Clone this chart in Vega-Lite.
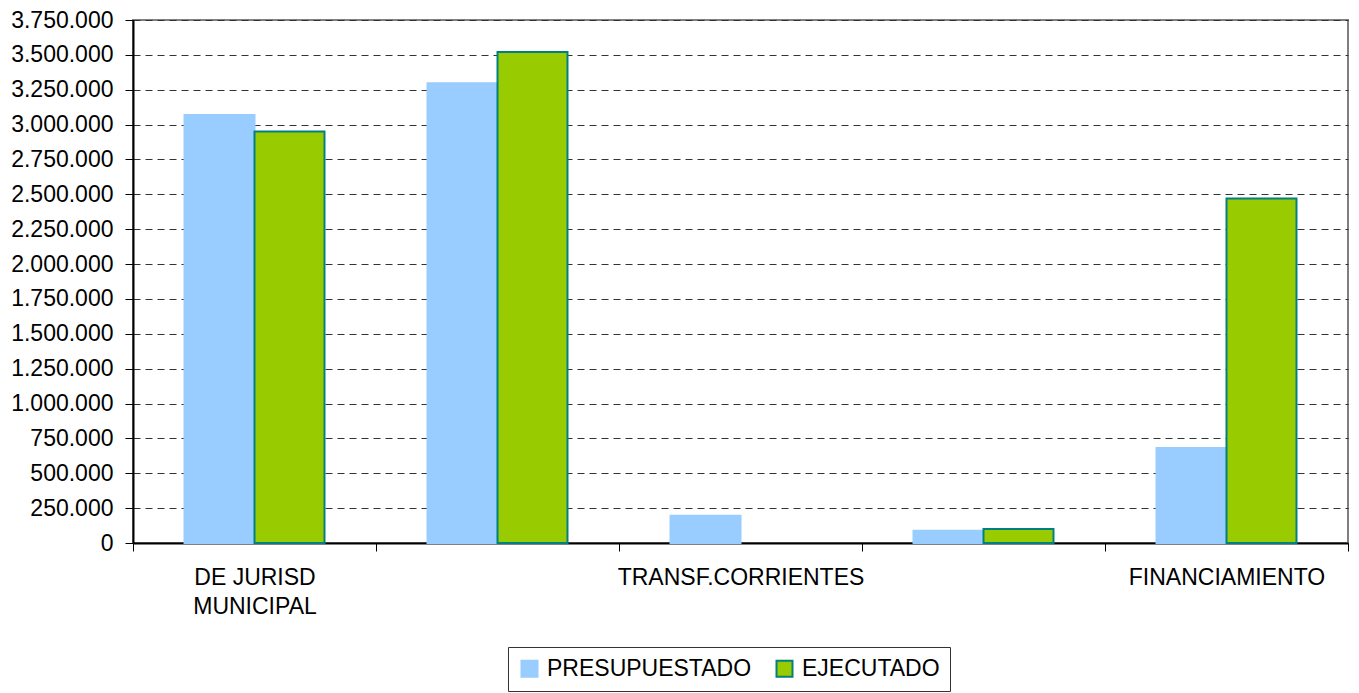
{
  "$schema": "https://vega.github.io/schema/vega-lite/v6.json",
  "width": 1215,
  "height": 523,
  "autosize": {"type": "none"},
  "padding": {"left": 133, "top": 20, "right": 11, "bottom": 150},
  "background": "white",
  "config": {
    "locale": {"number": {"decimal": ",", "thousands": ".", "grouping": [3], "currency": ["$", ""]}},
    "font": "Liberation Sans",
    "view": {"stroke": "#808080", "strokeWidth": 2}
  },
  "data": {
    "values": [
      {"rubro": "DE JURISD MUNICIPAL", "serie": "PRESUPUESTADO", "valor": 3068000},
      {"rubro": "DE JURISD MUNICIPAL", "serie": "EJECUTADO", "valor": 2951000},
      {"rubro": "DE OTRAS JURISD", "serie": "PRESUPUESTADO", "valor": 3296000},
      {"rubro": "DE OTRAS JURISD", "serie": "EJECUTADO", "valor": 3520000},
      {"rubro": "TRANSF.CORRIENTES", "serie": "PRESUPUESTADO", "valor": 196000},
      {"rubro": "TRANSF.DE CAPITAL", "serie": "PRESUPUESTADO", "valor": 88000},
      {"rubro": "TRANSF.DE CAPITAL", "serie": "EJECUTADO", "valor": 100000},
      {"rubro": "FINANCIAMIENTO", "serie": "PRESUPUESTADO", "valor": 682000},
      {"rubro": "FINANCIAMIENTO", "serie": "EJECUTADO", "valor": 2471000}
    ]
  },
  "mark": {"type": "bar", "strokeWidth": 2},
  "encoding": {
    "x": {
      "field": "rubro",
      "type": "nominal",
      "sort": ["DE JURISD MUNICIPAL", "DE OTRAS JURISD", "TRANSF.CORRIENTES", "TRANSF.DE CAPITAL", "FINANCIAMIENTO"],
      "scale": {"paddingInner": 0, "paddingOuter": 0},
      "axis": {
        "title": null,
        "labelAngle": 0,
        "tickBand": "extent",
        "ticks": true,
        "tickSize": 8,
        "tickColor": "#000",
        "domainColor": "#000",
        "domainWidth": 2,
        "labelFontSize": 23,
        "labelColor": "#000",
        "labelPadding": 15,
        "labelLineHeight": 29,
        "labelLimit": 0,
        "labelOverlap": false,
        "labelBound": false,
        "labelExpr": "datum.value == 'DE JURISD MUNICIPAL' ? ['DE JURISD', 'MUNICIPAL'] : ((datum.value == 'TRANSF.CORRIENTES' || datum.value == 'FINANCIAMIENTO') ? datum.value : '')",
        "grid": false
      }
    },
    "xOffset": {
      "field": "serie",
      "type": "nominal",
      "sort": ["PRESUPUESTADO", "EJECUTADO"],
      "scale": {"paddingInner": 0, "paddingOuter": 0.736}
    },
    "y": {
      "field": "valor",
      "type": "quantitative",
      "scale": {"domain": [0, 3750000], "nice": false},
      "axis": {
        "title": null,
        "values": [0, 250000, 500000, 750000, 1000000, 1250000, 1500000, 1750000, 2000000, 2250000, 2500000, 2750000, 3000000, 3250000, 3500000, 3750000],
        "format": ",d",
        "labelFontSize": 23,
        "labelColor": "#000",
        "tickSize": 8,
        "tickColor": "#000",
        "domainColor": "#000",
        "domainWidth": 2,
        "labelPadding": 12,
        "grid": true,
        "gridColor": "#333",
        "gridDash": [7, 5],
        "gridWidth": 1
      }
    },
    "fill": {
      "field": "serie",
      "type": "nominal",
      "scale": {"domain": ["PRESUPUESTADO", "EJECUTADO"], "range": ["#99CCFF", "#99CC00"]},
      "legend": {
        "title": null,
        "orient": "none",
        "direction": "horizontal",
        "legendX": 375,
        "legendY": 627,
        "padding": 10,
        "strokeColor": "#333",
        "symbolType": "square",
        "symbolSize": 256,
        "symbolStrokeWidth": 2,
        "labelFontSize": 23,
        "labelColor": "#000",
        "labelLimit": 0,
        "labelOffset": 6,
        "columnPadding": 20
      }
    },
    "stroke": {
      "field": "serie",
      "type": "nominal",
      "scale": {"domain": ["PRESUPUESTADO", "EJECUTADO"], "range": ["#99CCFF", "#008080"]},
      "legend": {
        "title": null,
        "orient": "none",
        "direction": "horizontal",
        "legendX": 375,
        "legendY": 627,
        "padding": 10,
        "strokeColor": "#333",
        "symbolType": "square",
        "symbolSize": 256,
        "symbolStrokeWidth": 2,
        "labelFontSize": 23,
        "labelColor": "#000",
        "labelLimit": 0,
        "labelOffset": 6,
        "columnPadding": 20
      }
    }
  }
}
